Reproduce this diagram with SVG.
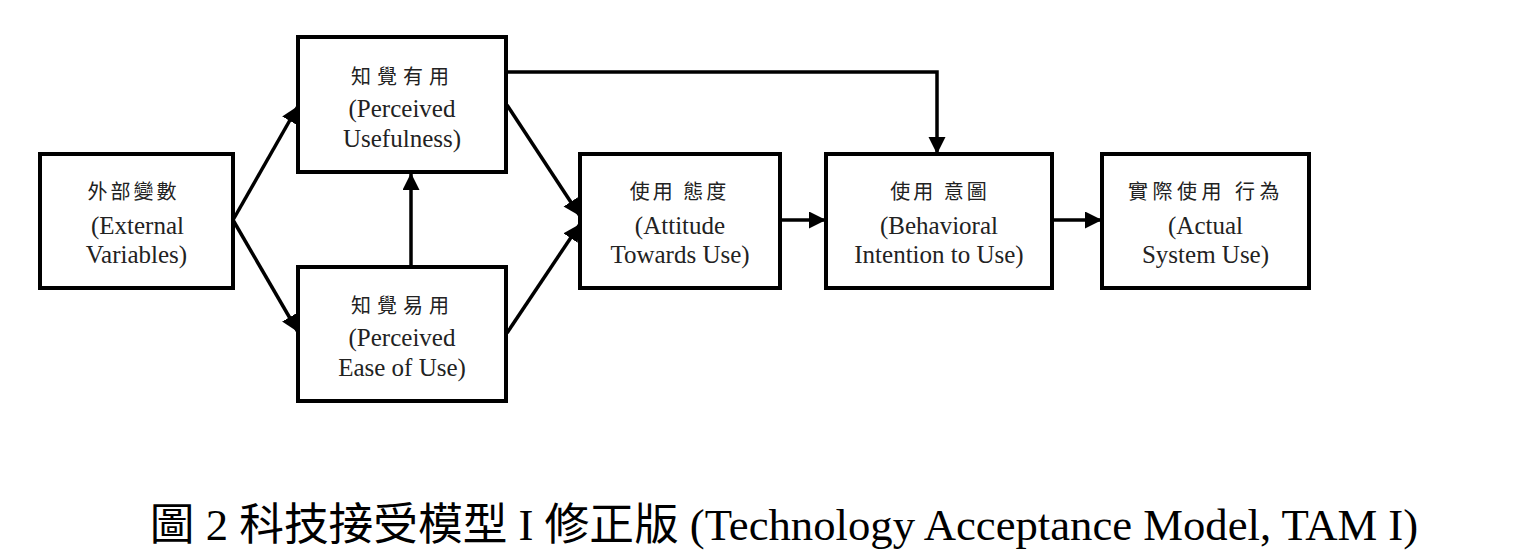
<svg xmlns="http://www.w3.org/2000/svg" width="1520" height="558" viewBox="0 0 1520 558">
<style>
.box{fill:#fff;stroke:#000;stroke-width:4}
.zh{font-family:"Noto Sans CJK TC","Noto Sans CJK SC",sans-serif;font-size:20px;fill:#222;text-anchor:middle;letter-spacing:3px}
.en{font-family:"Liberation Serif","Times New Roman",serif;font-size:25px;fill:#222;text-anchor:middle}
.cap{font-family:"Liberation Serif","Noto Sans CJK TC",serif;font-size:44.7px;fill:#000;text-anchor:middle}
.con{fill:none;stroke:#000;stroke-width:3.5}
</style>
<defs>
<marker id="ah" markerUnits="userSpaceOnUse" markerWidth="18" markerHeight="18" refX="17" refY="8.5" orient="auto">
<path d="M0,0 L17,8.5 L0,17 z" fill="#000"/>
</marker>
</defs>
<rect width="1520" height="558" fill="#fff"/>
<g id="connectors">
<line class="con" x1="233" y1="220" x2="298" y2="106" marker-end="url(#ah)"/>
<line class="con" x1="233" y1="220" x2="298" y2="332" marker-end="url(#ah)"/>
<line class="con" x1="411" y1="267" x2="411" y2="173" marker-end="url(#ah)"/>
<line class="con" x1="507" y1="105" x2="580" y2="216" marker-end="url(#ah)"/>
<line class="con" x1="507" y1="333" x2="580" y2="224" marker-end="url(#ah)"/>
<polyline class="con" points="507,72 937,72 937,154" marker-end="url(#ah)"/>
<line class="con" x1="780" y1="220" x2="826" y2="220" marker-end="url(#ah)"/>
<line class="con" x1="1052" y1="220" x2="1102" y2="220" marker-end="url(#ah)"/>
</g>
<g id="external">
<rect class="box" x="40" y="154" width="193" height="134"/>
<text class="zh" x="133.5" y="199">外部變數</text>
<text class="en" x="137.5" y="234">(External</text>
<text class="en" x="136.5" y="263">Variables)</text>
</g>
<g id="pu">
<rect class="box" x="298" y="37" width="208" height="135"/>
<text class="zh" x="403" y="84" style="letter-spacing:6px">知覺有用</text>
<text class="en" x="402" y="117">(Perceived</text>
<text class="en" x="402" y="147">Usefulness)</text>
</g>
<g id="peou">
<rect class="box" x="298" y="267" width="208" height="134"/>
<text class="zh" x="403" y="313" style="letter-spacing:6px">知覺易用</text>
<text class="en" x="402" y="346">(Perceived</text>
<text class="en" x="402" y="376">Ease of Use)</text>
</g>
<g id="atu">
<rect class="box" x="580" y="154" width="200" height="134"/>
<text class="zh" x="679.5" y="199">使用 態度</text>
<text class="en" x="680" y="234">(Attitude</text>
<text class="en" x="680" y="263">Towards Use)</text>
</g>
<g id="bi">
<rect class="box" x="826" y="154" width="226" height="134"/>
<text class="zh" x="940" y="199">使用 意圖</text>
<text class="en" x="939" y="234">(Behavioral</text>
<text class="en" x="939" y="263">Intention to Use)</text>
</g>
<g id="asu">
<rect class="box" x="1102" y="154" width="207" height="134"/>
<text class="zh" x="1206" y="199" style="letter-spacing:4.5px">實際使用 行為</text>
<text class="en" x="1205.5" y="234">(Actual</text>
<text class="en" x="1205.5" y="263">System Use)</text>
</g>
<text class="cap" x="784" y="540">圖 2 科技接受模型 I 修正版 (Technology Acceptance Model, TAM I)</text>
</svg>
